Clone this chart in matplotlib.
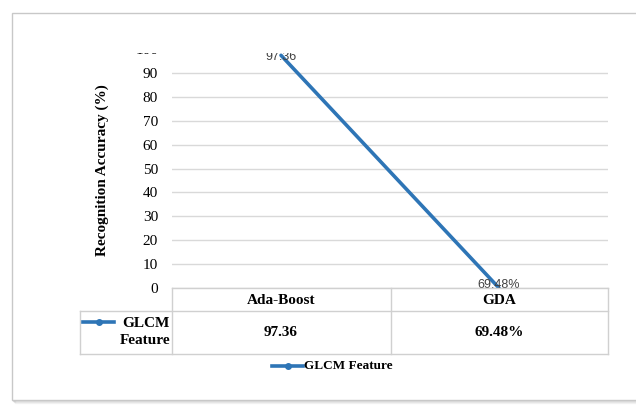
import numpy as np
import matplotlib.pyplot as plt
from matplotlib.patches import Rectangle
from matplotlib.lines import Line2D

categories = ['Ada-Boost', 'GDA']
values = [97.36, 0]            # plotted values (GDA text cell is read as 0)
table_labels = ['97.36', '69.48%']
series_name = 'GLCM Feature'
yticks = [0, 10, 20, 30, 40, 50, 60, 70, 80, 90, 100]

W, H = 636, 405
blue = '#2E75B6'
grid_c = '#d9d9d9'
serif = 'Liberation Serif'


def fx(px):
    return px / W


def fy(py):
    return 1 - py / H


fig = plt.figure(figsize=(W / 100, H / 100), dpi=100)

# outer frame with soft shadow
for i, a in enumerate([0.12, 0.07, 0.04]):
    fig.add_artist(Rectangle((fx(13 + i), fy(401 + i)), fx(640 - 13), fy(14) - fy(401),
                             transform=fig.transFigure, facecolor='none',
                             edgecolor=(0, 0, 0, a), lw=1, zorder=0))
fig.add_artist(Rectangle((fx(12), fy(400)), fx(640 - 12), fy(13) - fy(400),
                         transform=fig.transFigure, facecolor='white',
                         edgecolor='#c8c8c8', lw=1, zorder=0))

left, right, top, bottom = 172, 608, 49, 288
ax = fig.add_axes([fx(left), fy(bottom), fx(right - left), fy(top) - fy(bottom)])
x = np.arange(len(categories))
ax.plot(x, values, color=blue, lw=2.6, zorder=3, solid_capstyle='round')
ax.set_xlim(-0.5, len(categories) - 0.5)
ax.set_ylim(0, 100)
ax.set_yticks(yticks)
ax.set_yticklabels([str(t) for t in yticks], fontfamily=serif, fontsize=11)
ax.set_xticks([])
ax.grid(axis='y', color=grid_c, lw=1)
ax.set_axisbelow(True)
ax.tick_params(axis='y', length=0, pad=10)
for s in ax.spines.values():
    s.set_visible(False)

# data labels sit on the points (the lower one nudged up a little)
for xi, v, lab, dy in zip(x, values, table_labels, [-1.2, 2.2]):
    ax.annotate(lab, (xi, v), xytext=(0, dy), textcoords='offset points',
                ha='center', va='center', fontsize=9, color='#404040',
                fontfamily='Liberation Sans', zorder=4, annotation_clip=False)

fig.text(fx(102), fy(170), 'Recognition Accuracy (%)', rotation=90, ha='center', va='center',
         fontfamily=serif, fontweight='bold', fontsize=11)

# white band hiding top of chart (clipped like the original)
fig.add_artist(Rectangle((fx(40), fy(53)), fx(590), fy(20) - fy(53),
                         transform=fig.transFigure, facecolor='white', edgecolor='none', zorder=5))

# data table
tab_c = '#d0d0d0'
row1, row2, row3 = 288, 311, 354
col0, col1, col2, col3 = 80, 172, 391, 608


def hline(y, x0, x1):
    fig.add_artist(Line2D([fx(x0), fx(x1)], [fy(y), fy(y)], color=tab_c, lw=1))


def vline(xp, y0, y1):
    fig.add_artist(Line2D([fx(xp), fx(xp)], [fy(y0), fy(y1)], color=tab_c, lw=1))


hline(row1, col1, col3)
hline(row2, col0, col3)
hline(row3, col0, col3)
vline(col0, row2, row3)
for c in (col1, col2, col3):
    vline(c, row1, row3)

for i, cat in enumerate(categories):
    cx = ax.transData.transform((i, 0))[0] / W
    fig.text(cx, fy(301), cat, ha='center', va='center', fontfamily=serif,
             fontweight='bold', fontsize=11)
    fig.text(cx, fy(333), table_labels[i], ha='center', va='center', fontfamily=serif,
             fontweight='bold', fontsize=11)

fig.add_artist(Line2D([fx(83), fx(114)], [fy(322), fy(322)], color=blue, lw=2.6))
fig.add_artist(Line2D([fx(98.5)], [fy(322)], color=blue, marker='o', ms=4, lw=0))
fig.text(fx(170), fy(332), 'GLCM\nFeature', ha='right', va='center', fontfamily=serif,
         fontweight='bold', fontsize=11, linespacing=1.45)

# legend
fig.add_artist(Line2D([fx(272), fx(303)], [fy(366), fy(366)], color=blue, lw=2.6))
fig.add_artist(Line2D([fx(287.5)], [fy(366)], color=blue, marker='o', ms=4, lw=0))
fig.text(fx(304), fy(366), series_name, ha='left', va='center', fontfamily=serif,
         fontweight='bold', fontsize=9.5)

fig.savefig('out.png', dpi=100)
